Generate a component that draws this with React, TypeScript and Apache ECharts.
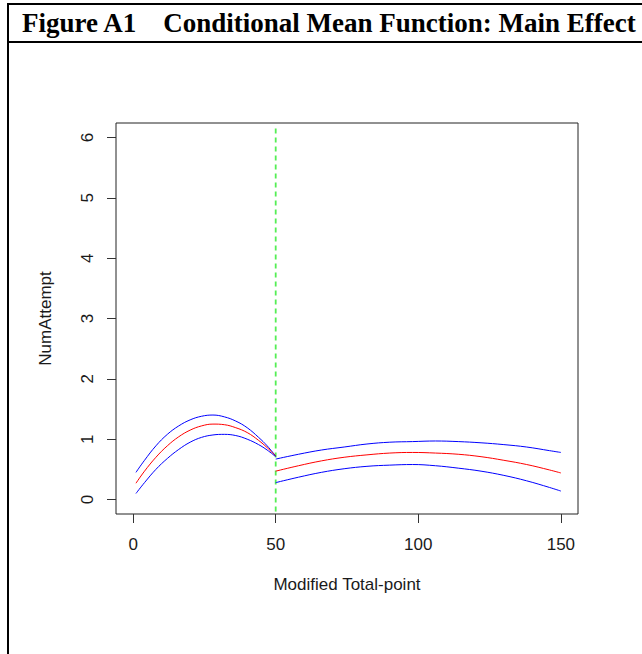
import React, { useEffect, useRef } from "react";
import * as echarts from "echarts";

// Left segment (x from 1 to 50)
const xLeft = [1, 4, 8, 12, 16, 20, 24, 28, 32, 36, 40, 44, 47, 50];
const upperLeft = [0.45, 0.65, 0.89, 1.08, 1.22, 1.32, 1.38, 1.4, 1.37, 1.3, 1.19, 1.03, 0.89, 0.72];
const meanLeft = [0.27, 0.47, 0.7, 0.89, 1.04, 1.15, 1.22, 1.25, 1.24, 1.19, 1.11, 0.98, 0.86, 0.72];
const lowerLeft = [0.1, 0.28, 0.5, 0.68, 0.83, 0.95, 1.03, 1.07, 1.08, 1.06, 1.0, 0.91, 0.82, 0.71];

// Right segment (x from 50 to 150)
const xRight = [50, 58, 66, 74, 82, 90, 98, 106, 114, 122, 130, 138, 146, 150];
const upperRight = [0.67, 0.75, 0.82, 0.87, 0.92, 0.95, 0.96, 0.97, 0.96, 0.94, 0.91, 0.87, 0.81, 0.78];
const meanRight = [0.47, 0.56, 0.64, 0.7, 0.74, 0.77, 0.78, 0.77, 0.75, 0.71, 0.65, 0.58, 0.49, 0.44];
const lowerRight = [0.28, 0.37, 0.45, 0.51, 0.55, 0.57, 0.58, 0.56, 0.52, 0.47, 0.4, 0.31, 0.2, 0.14];

const cutoff = 50;
const xTicks = [0, 50, 100, 150];
const yTicks = [0, 1, 2, 3, 4, 5, 6];

const titleText = "Figure A1    Conditional Mean Function: Main Effect";
const xName = "Modified Total-point";
const yName = "NumAttempt";

const pairs = (xs: number[], ys: number[]) => xs.map((x, i) => [x, ys[i]]);

export default function App() {
  const ref = useRef<HTMLDivElement>(null);
  useEffect(() => {
    document.body.style.margin = "0";
    const chart = echarts.init(ref.current!, null, { renderer: "svg" });
    const font = "Liberation Sans, Arial, sans-serif";
    const line = (name: string, data: number[][], color: string) => ({
      type: "line",
      name,
      data,
      smooth: 0.4,
      showSymbol: false,
      symbol: "none",
      lineStyle: { color, width: 1 },
      z: 3,
    });
    chart.setOption({
      animation: false,
      backgroundColor: "#fff",
      grid: {
        left: 116,
        top: 123,
        right: 64,
        bottom: 140,
        show: true,
        borderColor: "#222",
        borderWidth: 1,
        containLabel: false,
      },
      xAxis: {
        type: "value",
        min: -6,
        max: 156,
        name: xName,
        nameLocation: "middle",
        nameGap: 62,
        nameTextStyle: { fontFamily: font, fontSize: 17, color: "#1a1a1a" },
        axisLine: { show: false, onZero: false },
        splitLine: { show: false },
        axisTick: {
          show: true,
          inside: false,
          length: 9,
          customValues: xTicks,
          lineStyle: { color: "#333", width: 1 },
        },
        axisLabel: {
          customValues: xTicks,
          margin: 22,
          fontFamily: font,
          fontSize: 17,
          color: "#1a1a1a",
        },
      },
      yAxis: {
        type: "value",
        min: -0.24,
        max: 6.24,
        name: yName,
        nameLocation: "middle",
        nameGap: 62,
        nameRotate: 90,
        nameTextStyle: { fontFamily: font, fontSize: 17, color: "#1a1a1a" },
        axisLine: { show: false, onZero: false },
        splitLine: { show: false },
        axisTick: {
          show: true,
          inside: false,
          length: 9,
          customValues: yTicks,
          lineStyle: { color: "#333", width: 1 },
        },
        axisLabel: {
          customValues: yTicks,
          rotate: 90,
          margin: 20,
          fontFamily: font,
          fontSize: 17,
          color: "#1a1a1a",
        },
      },
      graphic: [
        { type: "line", shape: { x1: 8, y1: 3, x2: 8, y2: 654 }, style: { stroke: "#000", lineWidth: 2 } },
        { type: "line", shape: { x1: 7, y1: 4, x2: 642, y2: 4 }, style: { stroke: "#000", lineWidth: 2 } },
        { type: "line", shape: { x1: 7, y1: 42, x2: 642, y2: 42 }, style: { stroke: "#000", lineWidth: 2 } },
        {
          type: "text",
          x: 22,
          y: 23,
          style: {
            text: titleText,
            font: "bold 27px 'Liberation Serif', 'Times New Roman', serif",
            fill: "#000",
            verticalAlign: "middle",
            textAlign: "left",
          },
        },
      ],
      series: [
        line("upperLeft", pairs(xLeft, upperLeft), "#0000ff"),
        line("meanLeft", pairs(xLeft, meanLeft), "#ff0000"),
        line("lowerLeft", pairs(xLeft, lowerLeft), "#0000ff"),
        line("upperRight", pairs(xRight, upperRight), "#0000ff"),
        line("meanRight", pairs(xRight, meanRight), "#ff0000"),
        line("lowerRight", pairs(xRight, lowerRight), "#0000ff"),
        {
          type: "line",
          name: "cutoff",
          data: [
            [cutoff, -0.2],
            [cutoff, 6.2],
          ],
          showSymbol: false,
          symbol: "none",
          lineStyle: { color: "#55ee55", width: 1.8, type: [5, 4] },
          z: 2,
        },
      ],
    });
    return () => chart.dispose();
  }, []);
  return <div ref={ref} style={{ width: 642, height: 654 }} />;
}
